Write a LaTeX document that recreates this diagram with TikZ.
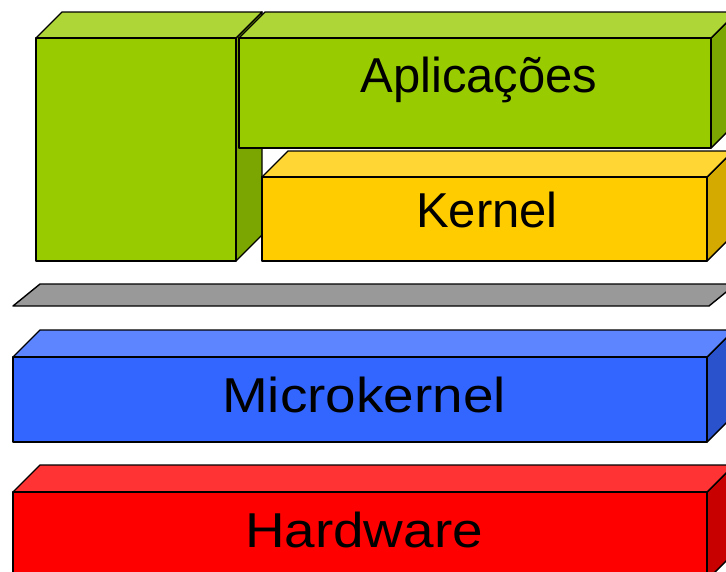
\documentclass[tikz,border=0pt]{standalone}
\usepackage{fontspec}
\setmainfont{Liberation Sans}
\definecolor{greenF}{HTML}{99CC00}
\definecolor{greenT}{HTML}{AED636}
\definecolor{greenS}{HTML}{7BA500}
\definecolor{yellowF}{HTML}{FFCC00}
\definecolor{yellowT}{HTML}{FFD633}
\definecolor{yellowS}{HTML}{D4A900}
\definecolor{plateG}{HTML}{999999}
\definecolor{blueF}{HTML}{3366FF}
\definecolor{blueT}{HTML}{5C85FF}
\definecolor{blueS}{HTML}{2952CC}
\definecolor{redF}{HTML}{FF0000}
\definecolor{redT}{HTML}{FF3333}
\definecolor{redS}{HTML}{C80000}
% front-left x, top y, right x, bottom y, depth, colour prefix
\newcommand{\drawcuboid}[6]{%
  \draw[face, fill=#6S] (#3,#2) -- ++(#5,-#5) -- (#3+#5,#4-#5) -- (#3,#4) -- cycle;
  \draw[face, fill=#6T] (#1,#2) -- ++(#5,-#5) -- (#3+#5,#2-#5) -- (#3,#2) -- cycle;
  \draw[face, fill=#6F] (#1,#2) rectangle (#3,#4);
}
\begin{document}
\begin{tikzpicture}[x=1pt, y=-1pt,
  face/.style={draw=black, line width=1.4pt, line join=round},
  label/.style={anchor=base, inner sep=0pt, font=\fontsize{49}{59}\selectfont},
  widelabel/.style={label, xscale=1.12}]
\useasboundingbox (0,0) rectangle (726,571);
\clip (0,0) rectangle (726,571);
% hardware and microkernel layers
\drawcuboid{13}{492}{707}{580}{27}{red}
\drawcuboid{13}{357}{707}{442}{27}{blue}
% separating plate
\draw[face, fill=plateG] (13,306) -- (709,306) -- (736,284) -- (40,284) -- cycle;
% tall application column, kernel, applications
\drawcuboid{36}{38}{236}{261}{26}{green}
\drawcuboid{262}{177}{707}{261}{26}{yellow}
\drawcuboid{239}{38}{711}{148}{26}{green}
% labels
\node[label] (apps) at (479,92) {Aplicações};
\node[label] (kern) at (487,227) {Kernel};
\node[widelabel] (micro) at (364,412) {Microkernel};
\node[widelabel] (hw) at (364,547) {Hardware};
\end{tikzpicture}
\end{document}
